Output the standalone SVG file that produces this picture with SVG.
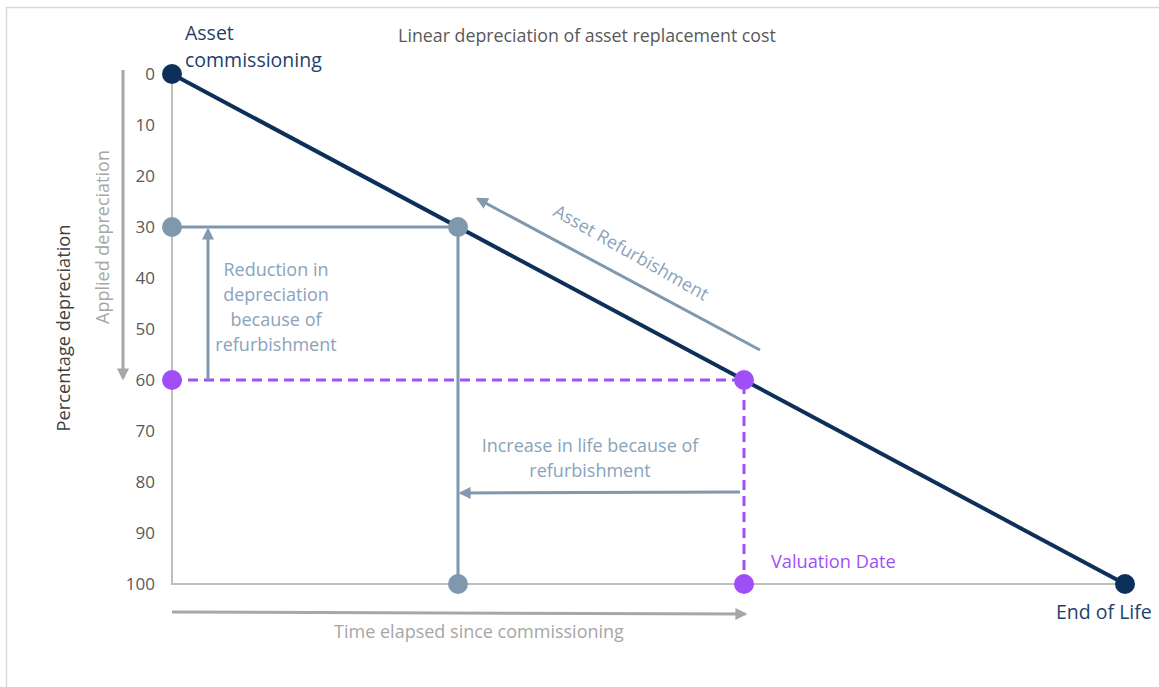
<svg xmlns="http://www.w3.org/2000/svg" width="1159" height="687" viewBox="0 0 1159 687">
  <defs>
    <marker id="ah-steel" viewBox="0 0 10 10" refX="8" refY="5" markerWidth="4" markerHeight="4" orient="auto" markerUnits="strokeWidth">
      <path d="M0,0 L10,5 L0,10 z" fill="#8299b0"/>
    </marker>
    <marker id="ah-grey" viewBox="0 0 10 10" refX="8" refY="5" markerWidth="4" markerHeight="4" orient="auto" markerUnits="strokeWidth">
      <path d="M0,0 L10,5 L0,10 z" fill="#a6a6a6"/>
    </marker>
    <style>
      text { font-family: "Open Sans", "Liberation Sans", sans-serif; }
      .tick { font-size: 17px; fill: #595959; text-anchor: end; }
      .navy-txt { font-size: 19.5px; fill: #1f3f6b; }
      .steel-txt { font-size: 18px; fill: #8aa3bb; text-anchor: middle; }
      .grey-txt { font-size: 18px; fill: #a6a6a6; text-anchor: middle; }
      .navy-dot { fill: #0d305a; }
      .steel-dot { fill: #7f98ad; }
      .purple-dot { fill: #a04ff6; }
      .steel-line { stroke: #7f98ad; stroke-width: 3; fill: none; }
      .purple-dash { stroke: #a04ff6; stroke-width: 3; stroke-dasharray: 10 6; fill: none; }
      .grey-arrow { stroke: #a6a6a6; stroke-width: 3; fill: none; }
    </style>
  </defs>

  <rect width="1159" height="687" fill="#ffffff"/>
  <!-- frame -->
  <path d="M6.5,700 V7.5 H1170" fill="none" stroke="#d9d9d9" stroke-width="1.5"/>

  <!-- titles and axis labels -->
  <text x="587" y="42" font-size="17.8" fill="#595959" text-anchor="middle">Linear depreciation of asset replacement cost</text>
  <text transform="translate(70,328) rotate(-90)" font-size="18.2" fill="#404040" text-anchor="middle">Percentage depreciation</text>
  <text transform="translate(109,237) rotate(-90)" class="grey-txt" font-size="19">Applied depreciation</text>

  <!-- tick labels -->
  <g id="ticks">
    <text class="tick" x="155" y="80">0</text>
    <text class="tick" x="155" y="131">10</text>
    <text class="tick" x="155" y="182">20</text>
    <text class="tick" x="155" y="233">30</text>
    <text class="tick" x="155" y="284">40</text>
    <text class="tick" x="155" y="335">50</text>
    <text class="tick" x="155" y="386">60</text>
    <text class="tick" x="155" y="437">70</text>
    <text class="tick" x="155" y="488">80</text>
    <text class="tick" x="155" y="539">90</text>
    <text class="tick" x="155" y="590">100</text>
  </g>

  <!-- axes -->
  <g id="axes" stroke="#bfbfbf" stroke-width="2" fill="none">
    <path d="M172,74 V584 H1125"/>
  </g>

  <!-- connectors -->
  <g id="connectors">
    <line class="grey-arrow" x1="123" y1="70" x2="123" y2="378" marker-end="url(#ah-grey)"/>
    <line class="grey-arrow" x1="172" y1="612" x2="745" y2="614" marker-end="url(#ah-grey)"/>
    <line x1="172" y1="74" x2="1125" y2="584" stroke="#0d305a" stroke-width="4"/>
    <path class="steel-line" d="M172,227 H458 V584"/>
    <path class="purple-dash" d="M172,380 H744 V584"/>
    <line class="steel-line" x1="208" y1="380" x2="208" y2="230" marker-end="url(#ah-steel)"/>
    <line class="steel-line" x1="760" y1="350" x2="478" y2="199" marker-end="url(#ah-steel)"/>
    <line class="steel-line" x1="740" y1="492" x2="461" y2="493" marker-end="url(#ah-steel)"/>
  </g>

  <!-- nodes -->
  <g id="node-commissioning">
    <circle class="navy-dot" cx="172" cy="74" r="10"/>
    <text class="navy-txt" x="185" y="40">Asset</text>
    <text class="navy-txt" x="185" y="67">commissioning</text>
  </g>
  <g id="node-end-of-life">
    <circle class="navy-dot" cx="1125" cy="584" r="10"/>
    <text class="navy-txt" x="1056" y="619">End of Life</text>
  </g>
  <g id="node-refurb-30">
    <circle class="steel-dot" cx="172" cy="227" r="10"/>
    <circle class="steel-dot" cx="458" cy="227" r="10"/>
    <circle class="steel-dot" cx="458" cy="584" r="10"/>
  </g>
  <g id="node-valuation">
    <circle class="purple-dot" cx="172" cy="380" r="10"/>
    <circle class="purple-dot" cx="744" cy="380" r="10"/>
    <circle class="purple-dot" cx="744" cy="584" r="10"/>
    <text x="771" y="568" font-size="18.2" fill="#a04ff6">Valuation Date</text>
  </g>

  <!-- annotations -->
  <g id="label-reduction" class="steel-txt">
    <text x="276" y="276">Reduction in</text>
    <text x="276" y="301">depreciation</text>
    <text x="276" y="326">because of</text>
    <text x="276" y="351">refurbishment</text>
  </g>
  <text class="steel-txt" transform="translate(628,258) rotate(29.5)">Asset Refurbishment</text>
  <g id="label-increase" class="steel-txt">
    <text x="590" y="452">Increase in life because of</text>
    <text x="590" y="477">refurbishment</text>
  </g>
  <text class="grey-txt" x="479" y="638">Time elapsed since commissioning</text>
</svg>
